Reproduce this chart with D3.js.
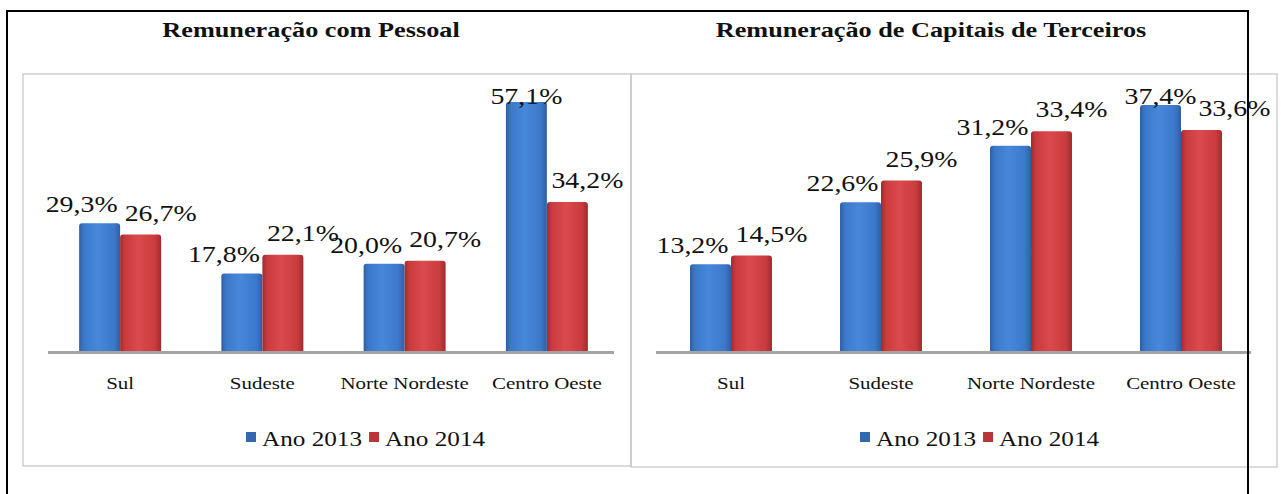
<!DOCTYPE html>
<html>
<head>
<meta charset="utf-8">
<script src="https://cdn.jsdelivr.net/npm/d3@7"></script>
<style>
  body { margin: 0; background: #fff; }
</style>
</head>
<body>
<svg id="chart" width="1281" height="494"></svg>
<script>
// data
const categories = ["Sul", "Sudeste", "Norte Nordeste", "Centro Oeste"];
const seriesNames = ["Ano 2013", "Ano 2014"];
const pessoal2013 = [29.3, 17.8, 20.0, 57.1];
const pessoal2014 = [26.7, 22.1, 20.7, 34.2];
const capitais2013 = [13.2, 22.6, 31.2, 37.4];
const capitais2014 = [14.5, 25.9, 33.4, 33.6];

const SERIF = "'Liberation Serif', 'Times New Roman', serif";
const fmt = v => d3.format(".1f")(v).replace(".", ",") + "%";

const svg = d3.select("#chart");

// gradients for the bars (cylinder-ish look)
const defs = svg.append("defs");
const makeGrad = (id, dark, mid, light) => {
  const g = defs.append("linearGradient").attr("id", id)
    .attr("x1", 0).attr("x2", 1).attr("y1", 0).attr("y2", 0);
  g.append("stop").attr("offset", "0%").attr("stop-color", dark);
  g.append("stop").attr("offset", "12%").attr("stop-color", mid);
  g.append("stop").attr("offset", "45%").attr("stop-color", light);
  g.append("stop").attr("offset", "85%").attr("stop-color", mid);
  g.append("stop").attr("offset", "100%").attr("stop-color", dark);
};
makeGrad("gBlue", "#2e60a2", "#3c78c9", "#4688da");
makeGrad("gRed", "#a02c2e", "#c93b3e", "#db4a4c");
const fills = ["url(#gBlue)", "url(#gRed)"];
const legFills = ["#3467ad", "#b83538"];

// the source picture is stretched sideways, so texts get a horizontal scale
const serifText = (sel, size, sx, x, y) => sel
  .attr("transform", `translate(${x},${y}) scale(${sx},1)`)
  .style("font-family", SERIF)
  .style("font-size", size + "px")
  .attr("fill", "#111");

const VAL_SX = 1.16;

class groupedBars {
  constructor(config) {
    Object.assign(this, config);
    this.createScale();
    this.render();
  }
  createScale() {
    this.x = d3.scaleBand().domain(categories).range(this.xRange).paddingInner(0).paddingOuter(0);
    this.y = d3.scaleLinear().domain([0, this.yMax]).range([this.base, this.yTop]);
  }
  render() {
    const x = this.x, y = this.y, base = this.base;
    const g = svg.append("g");
    const b = this.box;
    g.append("rect")
      .attr("x", b[0]).attr("y", b[1]).attr("width", b[2]).attr("height", b[3])
      .attr("fill", "none").attr("stroke", "#c4c4c4").attr("stroke-width", 1.2);

    svg.append("text")
      .attr("text-anchor", "middle")
      .call(serifText, 21, 1.25, this.titleX, 37)
      .style("font-weight", "bold")
      .text(this.title);

    const barW = 41;
    const rows = [];
    categories.forEach((c, i) => {
      this.series.forEach((s, k) => rows.push({ c, k, v: s[i] }));
    });
    const cx = d => x(d.c) + x.bandwidth() / 2;   // centre of the pair

    g.selectAll(".bar").data(rows).enter().append("path")
      .attr("class", "bar")
      .attr("fill", d => fills[d.k])
      .attr("d", d => {
        const x0 = cx(d) + (d.k === 0 ? -barW : 0);
        const y0 = y(d.v), r = 3;
        return `M${x0},${base}V${y0 + r}Q${x0},${y0} ${x0 + r},${y0}H${x0 + barW - r}Q${x0 + barW},${y0} ${x0 + barW},${y0 + r}V${base}Z`;
      });

    // baseline
    g.append("line")
      .attr("x1", this.axisLine[0]).attr("x2", this.axisLine[1])
      .attr("y1", base + 1.5).attr("y2", base + 1.5)
      .attr("stroke", "#a4a4a4").attr("stroke-width", 3);

    // value labels, spread to both sides; a label that would leave the plot
    // area is pushed down and sits centred on its bar
    const vals = g.selectAll(".val").data(rows).enter().append("text")
      .attr("class", "val")
      .attr("text-anchor", "middle")
      .text(d => fmt(d.v))
      .each(function(d) {
        const want = y(d.v) - (d.k === 0 ? 11 : 14);
        const clamped = want < 103;
        const barC = cx(d) + (d.k === 0 ? -barW / 2 : barW / 2);
        d.lx = clamped ? barC : barC + (d.k === 0 ? -18 : 20);
        d.ly = Math.max(104, want);
        d3.select(this).call(serifText, 24, VAL_SX, 0, 0);
        d.w = this.getComputedTextLength() * VAL_SX;
      });
    // keep the 2014 label clear of the 2013 label next to it
    for (let i = 0; i < rows.length; i += 2) {
      const a = rows[i], r = rows[i + 1];
      if (Math.abs(a.ly - r.ly) < 20) {
        const minX = a.lx + a.w / 2 + 2 + r.w / 2;
        if (r.lx < minX) r.lx = minX;
      }
    }
    vals.attr("transform", d => `translate(${d.lx},${d.ly}) scale(${VAL_SX},1)`);

    const ax = d3.axisBottom(x).tickSize(0).tickPadding(0);
    const axg = g.append("g").attr("transform", `translate(0,${base + 38})`).call(ax);
    axg.select(".domain").remove();
    axg.selectAll("text").attr("dy", 0).attr("y", null)
      .call(serifText, 17, 1.23, 0, 0);

    // legend
    const lg = g.append("g").attr("transform", `translate(${this.legendX},446)`);
    let off = 0;
    seriesNames.forEach((n, k) => {
      lg.append("rect").attr("x", off).attr("y", -14).attr("width", 10).attr("height", 10)
        .attr("fill", legFills[k]);
      const t = lg.append("text")
        .call(serifText, 20, 1.26, off + 16, 0)
        .text(n);
      off += 16 + t.node().getComputedTextLength() * 1.26 + 7;
    });
  }
}

new groupedBars({
  title: "Remuneração com Pessoal",
  titleX: 311,
  box: [23, 74, 608, 392],
  series: [pessoal2013, pessoal2014],
  xRange: [49, 618],
  base: 351,
  yMax: 60,
  yTop: 351 - 4.36 * 60,
  axisLine: [48, 614],
  legendX: 246
});

new groupedBars({
  title: "Remuneração de Capitais de Terceiros",
  titleX: 931,
  box: [631, 74, 646, 393],
  series: [capitais2013, capitais2014],
  xRange: [656, 1256],
  base: 351,
  yMax: 40,
  yTop: 351 - 6.58 * 40,
  axisLine: [656, 1251],
  legendX: 860
});

// outer black frame
svg.append("path")
  .attr("d", "M7,494V11H1248V494")
  .attr("fill", "none").attr("stroke", "#000").attr("stroke-width", 2);
</script>
</body>
</html>
